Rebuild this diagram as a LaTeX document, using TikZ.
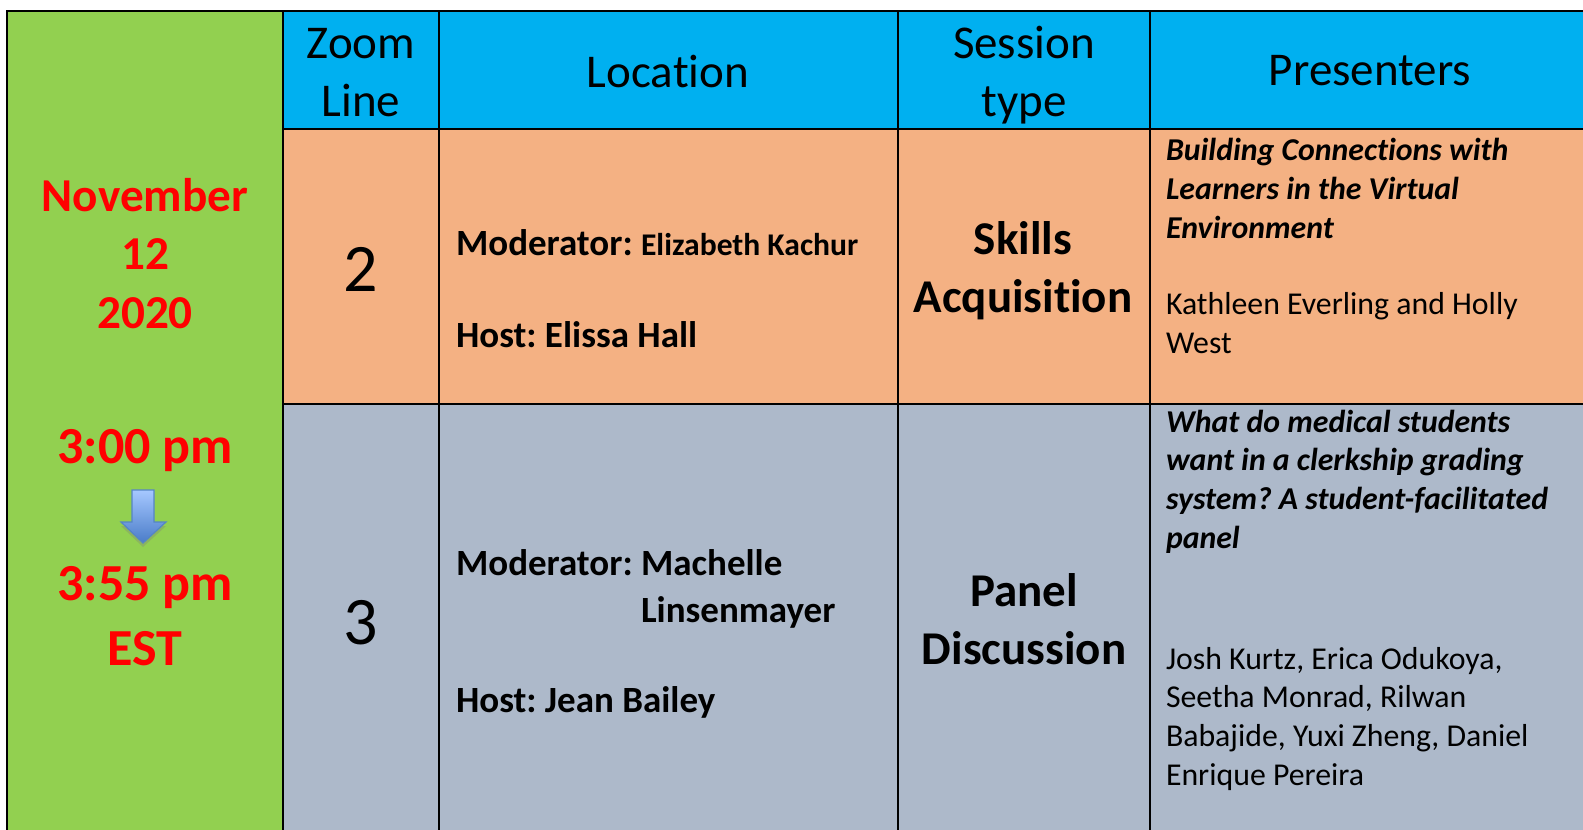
\documentclass[tikz,border=0pt]{standalone}
\usepackage{fontspec}
\setmainfont[Ligatures=NoCommon]{Carlito}
\frenchspacing
\usetikzlibrary{shadows}

\definecolor{dategreen}{HTML}{92D050}
\definecolor{headblue}{HTML}{00B0F0}
\definecolor{rowpeach}{HTML}{F4B183}
\definecolor{rowslate}{HTML}{ADB9CA}
\definecolor{arrowtop}{HTML}{A6C8FF}
\definecolor{arrowbot}{HTML}{4A7CC9}
\definecolor{arrowline}{HTML}{5585C5}

\tikzset{
    headtext/.style={font=\fontsize{23.5}{29.2}\selectfont, align=center, anchor=base, inner sep=0pt},
    datetext/.style={font=\fontsize{23.6}{29.2}\selectfont\bfseries, text=red, align=center, anchor=base, inner sep=0pt},
    timetext/.style={datetext, font=\fontsize{26}{31}\selectfont\bfseries},
    numtext/.style={font=\fontsize{34}{40}\selectfont, anchor=base, inner sep=0pt},
    loctext/.style={font=\fontsize{18.5}{23.5}\selectfont\bfseries, align=left, anchor=base west, inner sep=0pt},
    sesstext/.style={font=\fontsize{23.5}{28.8}\selectfont\bfseries, align=center, anchor=base, inner sep=0pt},
    titletext/.style={font=\fontsize{15.9}{19.3}\selectfont\bfseries\itshape, align=left, anchor=base west, inner sep=0pt},
    nametext/.style={font=\fontsize{15.9}{19.3}\selectfont, align=left, anchor=base west, inner sep=0pt}
}

\begin{document}
\begin{tikzpicture}[x=0.5pt, y=-0.5pt, line width=1pt]

    \useasboundingbox (0,0) rectangle (1583,829);
    \clip (0,0) rectangle (1583,829);

    % Cell fills
    \fill[dategreen] (7,11) rectangle (283,850);
    \fill[headblue] (283,11) rectangle (1600,129);
    \fill[rowpeach] (283,129) rectangle (1600,404);
    \fill[rowslate] (283,404) rectangle (1600,850);

    % Grid
    \draw (7,850) -- (7,11) -- (1600,11);
    \foreach \x in {283,439,898,1150}
        \draw (\x,11) -- (\x,850);
    \foreach \y in {129,404}
        \draw (283,\y) -- (1600,\y);

    % Date column (base = last line)
    \node[datetext] (date) at (145,328) {November\\12\\2020};
    \node[timetext] (start) at (145,463) {3:00 pm};
    \node[timetext] (finish) at (145,600) {3:55 pm};
    \node[timetext] (zone) at (145,665) {EST};
    \path[draw=arrowline, line width=0.6pt, top color=arrowtop, bottom color=arrowbot,
          drop shadow={opacity=0.35, shadow xshift=0pt, shadow yshift=-2pt}]
        (132,490) -- (154,490) -- (154,522) -- (166,522) -- (143,543)
        -- (121,522) -- (132,522) -- cycle;

    % Header row
    \node[headtext] (zoomhd) at (361,117) {Zoom\\Line};
    \node[headtext] (lochd) at (668,88) {Location};
    \node[headtext] (sesshd) at (1024,117) {Session\\type};
    \node[headtext] (preshd) at (1370,86) {Presenters};

    % Zoom line 2
    \node[numtext] (line2) at (361,291) {2};
    \node[loctext] (mod2) at (455,255) {Moderator: {\fontsize{15.8}{19}\selectfont Elizabeth Kachur}};
    \node[loctext] (host2) at (455,347) {Host: Elissa Hall};
    \node[sesstext] (sess2) at (1023,312) {Skills\\Acquisition};
    \node[titletext] (title2) at (1165,238) {Building Connections with\\Learners in the Virtual\\Environment};
    \node[nametext] (pres2) at (1165,353) {Kathleen Everling and Holly\\West};

    % Zoom line 3
    \node[numtext] (line3) at (361,644) {3};
    \node[loctext] (mod3) at (455,622) {Moderator: Machelle\\\hspace*{92.5pt}Linsenmayer};
    \node[loctext] (host3) at (455,712) {Host: Jean Bailey};
    \node[sesstext] (sess3) at (1024,664) {Panel\\Discussion};
    \node[titletext] (title3) at (1165,548) {What do medical students\\want in a clerkship grading\\system? A student-facilitated\\panel};
    \node[nametext] (pres3) at (1165,785) {Josh Kurtz, Erica Odukoya,\\Seetha Monrad, Rilwan\\Babajide, Yuxi Zheng, Daniel\\Enrique Pereira};

\end{tikzpicture}
\end{document}
